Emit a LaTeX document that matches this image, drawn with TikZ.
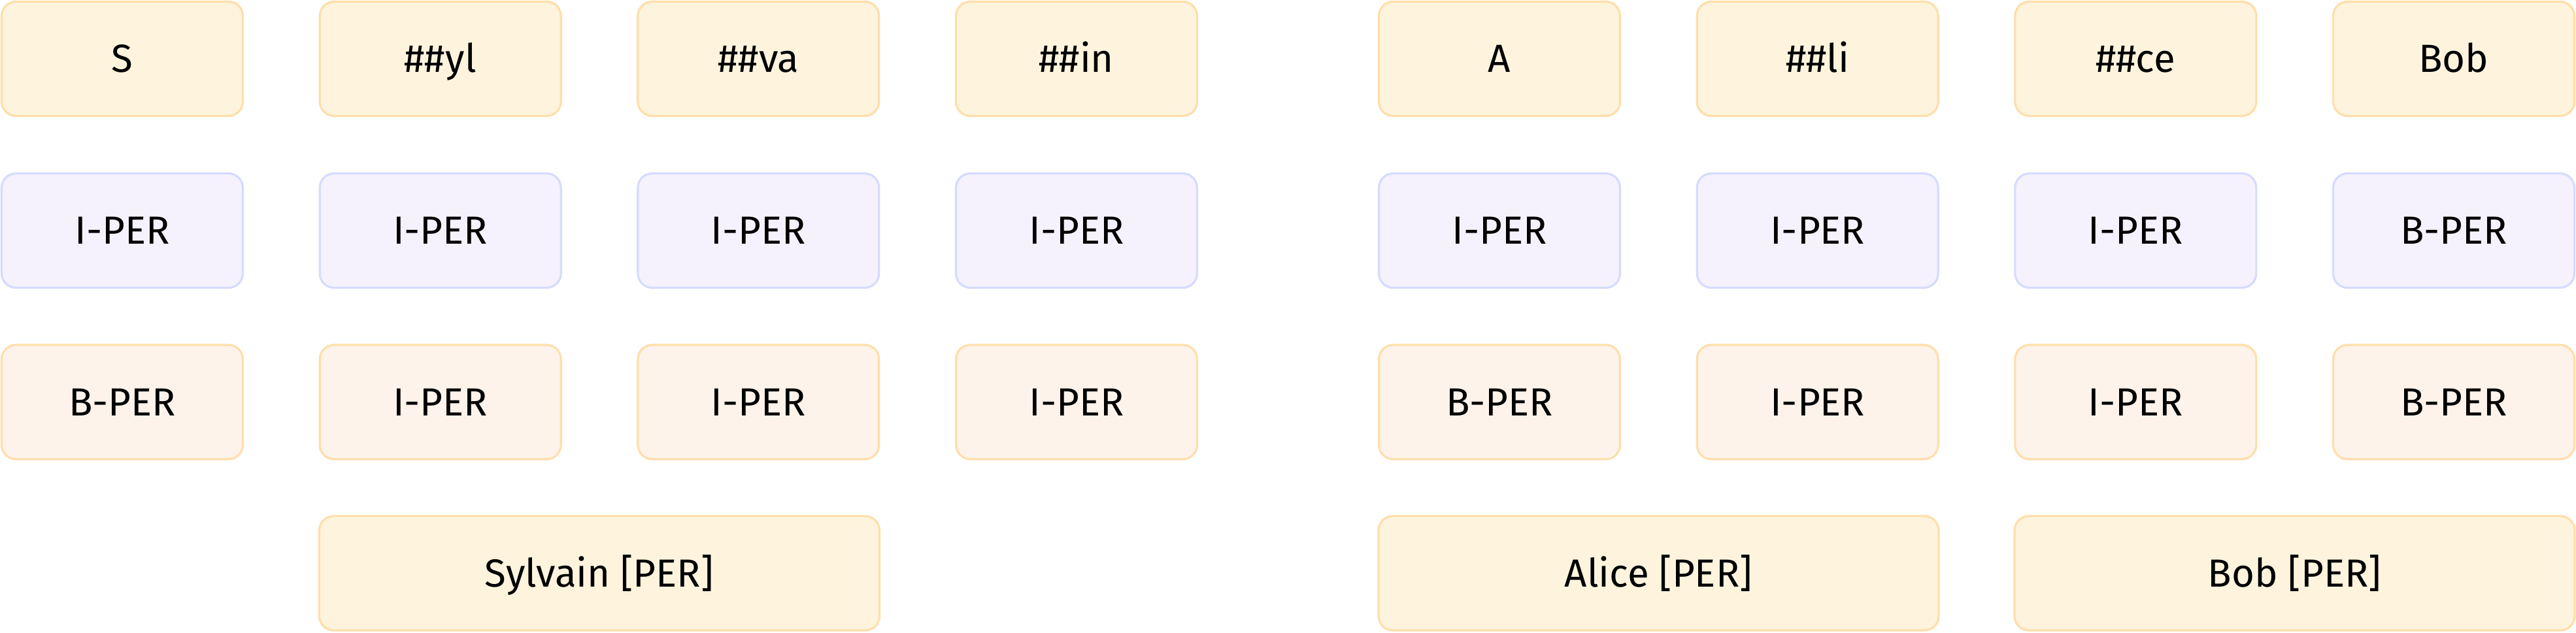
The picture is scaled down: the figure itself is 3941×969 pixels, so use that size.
\documentclass[tikz,border=0pt]{standalone}
\usepackage{fontspec}
\setmainfont{Fira Sans}
\definecolor{tokfill}{HTML}{FEF4DD}
\definecolor{tokdraw}{HTML}{FFDEAB}
\definecolor{predfill}{HTML}{F5F2FE}
\definecolor{preddraw}{HTML}{D6DBFE}
\definecolor{labfill}{HTML}{FEF3EA}
\definecolor{labdraw}{HTML}{FFDEAB}
\tikzset{
  box/.style={rectangle, rounded corners=5.5pt, line width=0.8pt,
    minimum width=92.25pt, minimum height=43.75pt, inner sep=0pt,
    text height=10.3pt, text depth=0pt,
    font=\fontsize{15}{18}\selectfont, text=black},
  tok/.style={box, fill=tokfill, draw=tokdraw},
  pred/.style={box, fill=predfill, draw=preddraw},
  lab/.style={box, fill=labfill, draw=labdraw},
  ent/.style={box, fill=tokfill, draw=tokdraw, minimum width=214.25pt},
}
\begin{document}
\begin{tikzpicture}[x=0.25pt,y=-0.25pt]
\useasboundingbox (0,0) rectangle (3941,969);
% columns centres
\def\ca{187}\def\cb{673.67}\def\cc{1160.33}\def\cd{1647}
\def\ce{2294}\def\cf{2780.67}\def\cg{3267.33}\def\ch{3754}
% row 1: tokens
\node[tok] (t1) at (\ca,90) {S};
\node[tok] (t2) at (\cb,90) {\#\#yl};
\node[tok] (t3) at (\cc,90) {\#\#va};
\node[tok] (t4) at (\cd,90) {\#\#in};
\node[tok] (t5) at (\ce,90) {A};
\node[tok] (t6) at (\cf,90) {\#\#li};
\node[tok] (t7) at (\cg,90) {\#\#ce};
\node[tok] (t8) at (\ch,90) {Bob};
% row 2: predictions
\node[pred] (p1) at (\ca,353) {I-PER};
\node[pred] (p2) at (\cb,353) {I-PER};
\node[pred] (p3) at (\cc,353) {I-PER};
\node[pred] (p4) at (\cd,353) {I-PER};
\node[pred] (p5) at (\ce,353) {I-PER};
\node[pred] (p6) at (\cf,353) {I-PER};
\node[pred] (p7) at (\cg,353) {I-PER};
\node[pred] (p8) at (\ch,353) {B-PER};
% row 3: corrected labels
\node[lab] (l1) at (\ca,615.5) {B-PER};
\node[lab] (l2) at (\cb,615.5) {I-PER};
\node[lab] (l3) at (\cc,615.5) {I-PER};
\node[lab] (l4) at (\cd,615.5) {I-PER};
\node[lab] (l5) at (\ce,615.5) {B-PER};
\node[lab] (l6) at (\cf,615.5) {I-PER};
\node[lab] (l7) at (\cg,615.5) {I-PER};
\node[lab] (l8) at (\ch,615.5) {B-PER};
% row 4: entities
\node[ent] (e1) at (917,877.5) {Sylvain [PER]};
\node[ent] (e2) at (2537.5,877.5) {Alice [PER]};
\node[ent] (e3) at (3510.5,877.5) {Bob [PER]};
\end{tikzpicture}
\end{document}
